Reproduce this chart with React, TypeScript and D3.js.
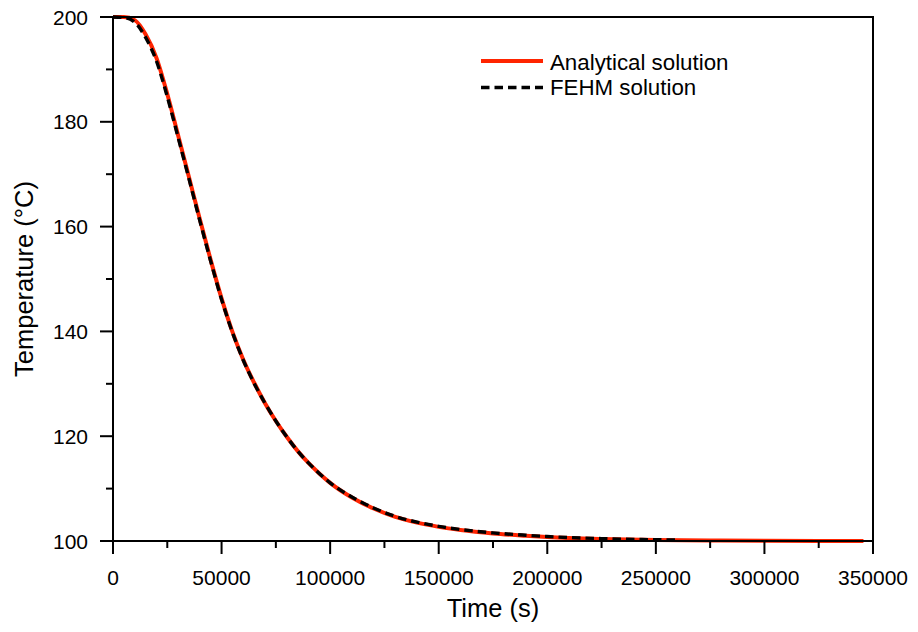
import React from "react";
import * as d3 from "d3";

const analyticalTime = [0, 5000, 10000, 15000, 20000, 25000, 30000, 35000, 40000, 45000, 50000, 55000, 60000, 65000, 70000, 75000, 80000, 85000, 90000, 95000, 100000, 110000, 120000, 130000, 140000, 150000, 160000, 175000, 190000, 200000, 225000, 250000, 275000, 300000, 325000, 345600];
const analyticalTemp = [200, 200, 199.4, 196.7, 192.2, 185.3, 177.4, 169.4, 161.4, 153.6, 146.3, 139.9, 134.6, 130.2, 126.3, 122.9, 119.9, 117.2, 114.9, 112.9, 111.1, 108.3, 106.2, 104.6, 103.5, 102.7, 102.1, 101.45, 101.0, 100.75, 100.38, 100.18, 100.09, 100.04, 100.02, 100.01];

const fehmTime = [0, 5000, 10000, 15000, 20000, 25000, 30000, 35000, 40000, 45000, 50000, 55000, 60000, 65000, 70000, 75000, 80000, 85000, 90000, 95000, 100000, 110000, 120000, 130000, 140000, 150000, 160000, 175000, 190000, 200000, 225000, 259200];
const fehmTemp = [200, 199.9, 199.0, 196.1, 191.6, 184.8, 177.0, 169.1, 161.1, 153.4, 146.1, 139.8, 134.5, 130.1, 126.3, 122.9, 119.9, 117.2, 114.9, 112.9, 111.1, 108.4, 106.3, 104.7, 103.6, 102.8, 102.2, 101.55, 101.1, 100.85, 100.45, 100.2];

const xTicks = [0, 50000, 100000, 150000, 200000, 250000, 300000, 350000];
const xMinor = [25000, 75000, 125000, 175000, 225000, 275000, 325000];
const yTicks = [100, 120, 140, 160, 180, 200];
const yMinor = [110, 130, 150, 170, 190];

const W = 918, H = 632;
const L = 113, R = 873, T = 17, B = 541;
const font = "'Liberation Sans', Arial, sans-serif";
const RED = "#ff2400";
const DASH = "8.5,5";

export default function App() {
  const x = d3.scaleLinear().domain([0, 350000]).range([L, R]);
  const y = d3.scaleLinear().domain([100, 200]).range([B, T]);
  const line = d3.line<[number, number]>().x(d => x(d[0])).y(d => y(d[1])).curve(d3.curveMonotoneX);
  const aPath = line(analyticalTime.map((t, i) => [t, analyticalTemp[i]]) as [number, number][]) || "";
  const fPath = line(fehmTime.map((t, i) => [t, fehmTemp[i]]) as [number, number][]) || "";
  return (
    <svg width={W} height={H} style={{ position: "absolute", left: 0, top: 0, background: "#fff" }} fontFamily={font}>
      <rect x={0} y={0} width={W} height={H} fill="#fff" />
      <path d={aPath} fill="none" stroke={RED} strokeWidth={4} />
      <path d={fPath} fill="none" stroke="#000" strokeWidth={3.4} strokeDasharray={DASH} />
      <rect x={L} y={T} width={R - L} height={B - T} fill="none" stroke="#000" strokeWidth={2} />
      {xTicks.map(v => (
        <g key={"xt" + v}>
          <line x1={x(v)} x2={x(v)} y1={B} y2={B + 13} stroke="#000" strokeWidth={2} />
          <text x={x(v)} y={585} textAnchor="middle" fontSize={21} fill="#000">{v}</text>
        </g>
      ))}
      {xMinor.map(v => (
        <line key={"xm" + v} x1={x(v)} x2={x(v)} y1={B} y2={B + 7} stroke="#000" strokeWidth={2} />
      ))}
      {yTicks.map(v => (
        <g key={"yt" + v}>
          <line x1={L - 13} x2={L} y1={y(v)} y2={y(v)} stroke="#000" strokeWidth={2} />
          <text x={88} y={y(v) + 7.5} textAnchor="end" fontSize={21} fill="#000">{v}</text>
        </g>
      ))}
      {yMinor.map(v => (
        <line key={"ym" + v} x1={L - 7} x2={L} y1={y(v)} y2={y(v)} stroke="#000" strokeWidth={2} />
      ))}
      <text x={(L + R) / 2} y={617} textAnchor="middle" fontSize={25.5} fill="#000">Time (s)</text>
      <text transform={`translate(33,${(T + B) / 2}) rotate(-90)`} textAnchor="middle" fontSize={25.5} fill="#000">Temperature (°C)</text>
      <line x1={481} x2={543} y1={61} y2={61} stroke={RED} strokeWidth={4} />
      <text x={550} y={70} fontSize={22.3} fill="#000">Analytical solution</text>
      <line x1={481} x2={543} y1={87.5} y2={87.5} stroke="#000" strokeWidth={3.4} strokeDasharray={DASH} />
      <text x={550} y={95} fontSize={22.3} fill="#000">FEHM solution</text>
    </svg>
  );
}
